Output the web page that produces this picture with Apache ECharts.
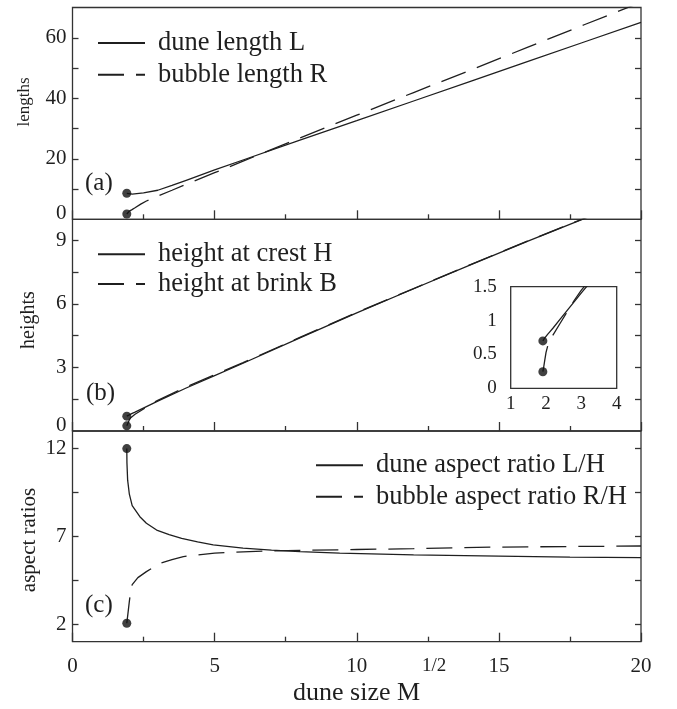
<!DOCTYPE html>
<html><head><meta charset="utf-8">
<script src="https://cdn.jsdelivr.net/npm/echarts@6/dist/echarts.min.js"></script>
<style>html,body{margin:0;padding:0;background:#fff}#c{width:677px;height:709px}</style>
</head><body><div id="c"></div>
<script>
// ---------- data ----------
// panel (a): lengths
const lengthLX = [1.91, 1.97, 2.1, 2.5, 3, 3.5, 4, 5, 6, 8, 10, 12, 14, 16, 18, 20];
const lengthL  = [8.6, 8.35, 8.35, 8.7, 9.6, 11.2, 12.9, 16.3, 19.6, 26.2, 32.6, 39.1, 45.6, 52.1, 58.6, 65.1];
const lengthRX = [1.91, 1.95, 2.0, 2.08, 2.2, 2.4, 2.6, 3.0, 3.5, 4, 5, 6, 8, 10, 12, 14, 16, 18, 20];
const lengthR  = [1.75, 2.3, 2.7, 3.1, 3.8, 5.0, 6.05, 7.7, 9.6, 11.6, 15.4, 19.2, 26.9, 34.4, 41.9, 49.3, 56.8, 64.3, 71.7];
// panel (b): heights
const heightX  = [1.91, 1.93, 1.96, 2.0, 2.05, 2.1, 2.2, 2.4, 2.6, 2.8, 3, 4, 5, 6, 8, 10, 12, 14, 16, 18, 20];
const heightH  = [0.70, 0.72, 0.74, 0.76, 0.80, 0.83, 0.89, 1.02, 1.15, 1.28, 1.41, 2.03, 2.62, 3.2, 4.4, 5.58, 6.72, 7.85, 8.96, 10.03, 11.1];
const heightB  = [0.245, 0.30, 0.40, 0.53, 0.63, 0.70, 0.79, 0.96, 1.13, 1.30, 1.45, 2.08, 2.66, 3.23, 4.42, 5.60, 6.73, 7.86, 8.97, 10.04, 11.12];
// panel (c): aspect ratios
const ratioLX  = [1.91, 1.915, 1.94, 2.0, 2.1, 2.37, 2.6, 2.96, 3.4, 3.84, 4.4, 4.95, 6, 7, 8, 9.4, 12, 15, 17.5, 20];
const ratioL   = [12, 11.2, 10.2, 9.4, 8.75, 8.12, 7.75, 7.36, 7.1, 6.89, 6.68, 6.51, 6.33, 6.22, 6.13, 6.04, 5.94, 5.87, 5.82, 5.79];
const ratioRX  = [1.91, 1.95, 2.0, 2.05, 2.1, 2.3, 2.6, 3.08, 3.5, 3.9, 5, 6, 7, 8, 10, 12, 15, 17.5, 20];
const ratioR   = [2.05, 2.6, 3.3, 3.9, 4.25, 4.65, 4.99, 5.47, 5.68, 5.85, 6.04, 6.12, 6.17, 6.2, 6.25, 6.3, 6.39, 6.42, 6.45];
// axis ticks / labels
const xLabels      = [0, 5, 10, 15, 20];
const lenLabels    = [0, 20, 40, 60];
const lenTicks     = [10, 20, 30, 40, 50, 60];
const hLabels      = [0, 3, 6, 9];
const hTicks       = [1.5, 3, 4.5, 6, 7.5, 9];
const rLabels      = [2, 7, 12];
const rTicks       = [2, 4.5, 7, 9.5, 12];
const insetXLabels = [1, 2, 3, 4];
const insetYLabels = [0, 0.5, 1, 1.5];
const insetYTicks  = [0.5, 1];
// legend names
const namesA = ['dune length L', 'bubble length R'];
const namesB = ['height at crest H', 'height at brink B'];
const namesC = ['dune aspect ratio L/H', 'bubble aspect ratio R/H'];

// ---------- chart ----------
const FONT = '"Liberation Serif", "Times New Roman", serif';
const TXT = '#1f1f1f';
const AX = '#333';
const LW = 1.3;
const DASH = [26, 12];
const zip = (xs, ys) => xs.map((x, i) => [x, ys[i]]);

const G = [
  {left: 72.5, top: 7.5, width: 568.5, height: 211.8},
  {left: 72.5, top: 219.3, width: 568.5, height: 211.7},
  {left: 72.5, top: 431, width: 568.5, height: 210.7},
  {left: 510.7, top: 286.7, width: 106, height: 101.6}
].map((g, i) => Object.assign(g, {show: true, borderColor: AX, borderWidth: LW, backgroundColor: i === 3 ? '#fff' : 'transparent', z: i === 3 ? 5 : 0}));

const tickStyle = {color: AX, width: LW};
function mainX(i) {
  return {
    gridIndex: i, type: 'value', min: 0, max: 20, interval: 5,
    axisLine: {show: false}, splitLine: {show: false},
    axisTick: {show: true, inside: true, length: 9, lineStyle: tickStyle},
    minorTick: {show: true, splitNumber: 2, length: 5, lineStyle: tickStyle},
    axisLabel: {show: i === 2, customValues: xLabels, margin: 14, fontFamily: FONT, fontSize: 21, color: TXT}
  };
}
function zeroFmt(v) { return v === 0 ? '{z|0}' : String(v); }
function yPair(grid, min, max, labels, ticks, raiseZero) {
  const lab = {customValues: labels, margin: 6, fontFamily: FONT, fontSize: 21, color: TXT,
               rich: {z: {fontFamily: FONT, fontSize: 21, color: TXT, padding: [0, 0, 12, 0]}}};
  if (raiseZero) lab.formatter = zeroFmt;
  return [
    {gridIndex: grid, type: 'value', position: 'left', min: min, max: max,
     axisLine: {show: false}, splitLine: {show: false},
     axisTick: {show: true, inside: true, length: 6, customValues: ticks, lineStyle: tickStyle},
     axisLabel: lab},
    {gridIndex: grid, type: 'value', position: 'right', min: min, max: max,
     axisLine: {show: false}, splitLine: {show: false},
     axisTick: {show: true, inside: true, length: 6, customValues: ticks, lineStyle: tickStyle},
     axisLabel: {show: false}}
  ];
}

const xAxis = [mainX(0), mainX(1), mainX(2), {
  gridIndex: 3, type: 'value', min: 1, max: 4, interval: 1,
  axisLine: {show: false}, splitLine: {show: false},
  axisTick: {show: true, inside: true, length: 5, customValues: [2, 3], lineStyle: tickStyle},
  axisLabel: {customValues: insetXLabels, margin: 6, fontFamily: FONT, fontSize: 19, color: TXT}
}];
const yAxis = [].concat(
  yPair(0, 0, 70, lenLabels, lenTicks, true),
  yPair(1, 0, 10, hLabels, hTicks, true),
  yPair(2, 1, 13, rLabels, rTicks, false),
  yPair(3, 0, 1.5, insetYLabels, insetYTicks, false)
);
yAxis[6].axisLabel.fontSize = 19;
yAxis[6].axisLabel.margin = 14;
yAxis[6].axisTick.length = 5;
yAxis[7].axisTick.length = 5;

function line(name, xi, yi, data, dashed) {
  return {name: name, type: 'line', xAxisIndex: xi, yAxisIndex: yi, data: data,
          symbol: 'none', smooth: false, clip: true, silent: true, animation: false,
          z: xi === 3 ? 6 : 2, color: TXT, itemStyle: {color: TXT},
          lineStyle: {color: TXT, width: LW, type: dashed ? DASH : 'solid'}};
}
function dots(xi, yi, pts) {
  return {type: 'scatter', xAxisIndex: xi, yAxisIndex: yi, data: pts, symbol: 'circle',
          symbolSize: 9, itemStyle: {color: '#111'}, silent: true, animation: false, z: xi === 3 ? 7 : 3};
}

const series = [
  line(namesA[0], 0, 0, zip(lengthLX, lengthL), false),
  line(namesA[1], 0, 0, zip(lengthRX, lengthR), true),
  dots(0, 0, [[lengthLX[0], lengthL[0]], [lengthRX[0], lengthR[0]]]),
  line(namesB[0], 1, 2, zip(heightX, heightH), false),
  line(namesB[1], 1, 2, zip(heightX, heightB), true),
  dots(1, 2, [[heightX[0], heightH[0]], [heightX[0], heightB[0]]]),
  line(namesC[0], 2, 4, zip(ratioLX, ratioL), false),
  line(namesC[1], 2, 4, zip(ratioRX, ratioR), true),
  dots(2, 4, [[ratioLX[0], ratioL[0]], [ratioRX[0], ratioR[0]]]),
  line('inset H', 3, 6, zip(heightX, heightH), false),
  line('inset B', 3, 6, zip(heightX, heightB), true),
  dots(3, 6, [[heightX[0], heightH[0]], [heightX[0], heightB[0]]])
];

function legend(names, left, top, gap) {
  return {data: names, left: left, top: top, orient: 'vertical', padding: 0,
          itemWidth: 47, itemHeight: 14, itemGap: gap, selectedMode: false,
          itemStyle: {color: 'rgba(0,0,0,0)', borderWidth: 0, opacity: 0},
          textStyle: {fontFamily: FONT, fontSize: 26.5, color: TXT, padding: [0, 0, 0, 8]}};
}

function gtext(text, x, y, size, rot) {
  return {type: 'text', x: x, y: y, rotation: rot || 0, silent: true,
          style: {text: text, font: size + 'px ' + FONT, fill: TXT,
                  textAlign: rot ? 'center' : 'left', textVerticalAlign: 'middle'}};
}

const option = {
  animation: false,
  backgroundColor: '#fff',
  grid: G,
  xAxis: xAxis,
  yAxis: yAxis,
  legend: [legend(namesA, 97, 29.5, 4.8), legend(namesB, 97, 240.8, 2.8), legend(namesC, 315, 451.8, 4.5)],
  series: series,
  graphic: [
    gtext('lengths', 25, 102, 17, Math.PI / 2),
    gtext('heights', 29, 320, 20, Math.PI / 2),
    gtext('aspect ratios', 29, 540, 21, Math.PI / 2),
    gtext('(a)', 85, 183, 25),
    gtext('(b)', 86, 393, 25),
    gtext('(c)', 85, 605, 25),
    gtext('dune size M', 293, 693, 26),
    gtext('1/2', 422, 666, 19)
  ]
};
const chart = echarts.init(document.getElementById('c'), null, {renderer: 'canvas'});
chart.setOption(option);
</script></body></html>
